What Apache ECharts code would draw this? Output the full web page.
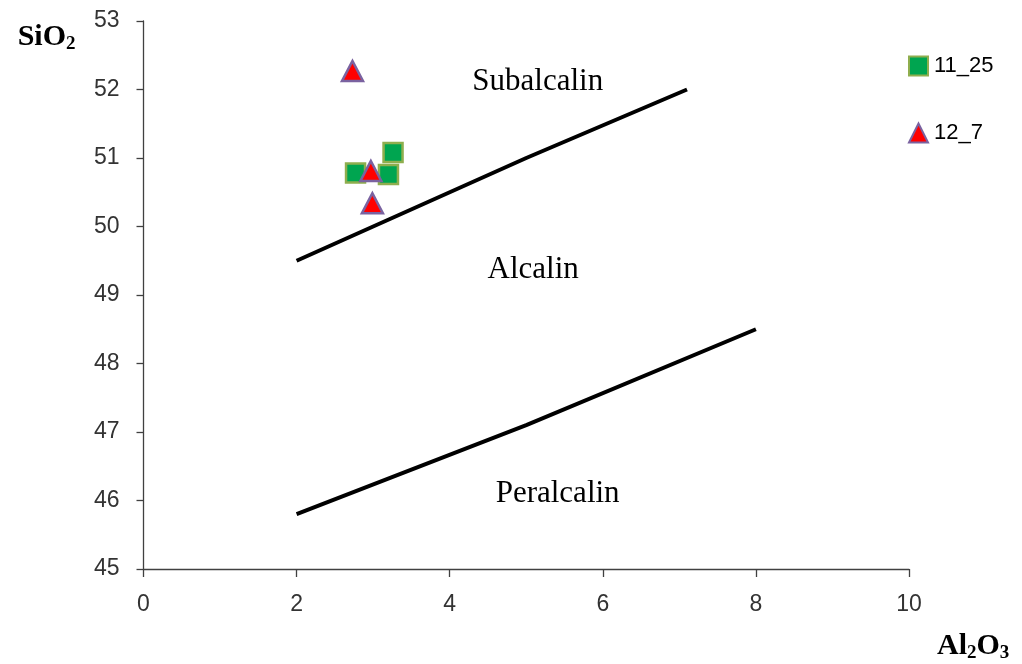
<!DOCTYPE html>
<html><head><meta charset="utf-8">
<script src="https://cdn.jsdelivr.net/npm/echarts@6/dist/echarts.min.js"></script>
<style>html,body{margin:0;padding:0;background:#fff}#c{width:1022px;height:664px}</style>
</head><body><div id="c"></div>
<script>
// data
const s1125 = [[2.77, 50.78], [3.26, 51.08], [3.20, 50.76]];
const s127 = [[2.73, 52.27], [2.97, 50.81], [2.99, 50.34]];
const upperBoundary = [[2.0, 49.5], [5.0, 51.0], [7.1, 52.0]];
const lowerBoundary = [[2.0, 45.8], [5.0, 47.1], [8.0, 48.5]];
const regionLabels = [[5.15, 52.11, 'Subalcalin'], [5.09, 49.36, 'Alcalin'], [5.41, 46.09, 'Peralcalin']];
const xTicks = [0, 2, 4, 6, 8, 10];
const yTicks = [45, 46, 47, 48, 49, 50, 51, 52, 53];

const chart = echarts.init(document.getElementById('c'));
const tickFont = {fontFamily: 'Liberation Sans', fontSize: 23, color: '#333'};
const nameRich = {
  a: {fontFamily: 'Liberation Serif', fontWeight: 'bold', fontSize: 30, color: '#000'},
  b: {fontFamily: 'Liberation Serif', fontWeight: 'bold', fontSize: 19, color: '#000', padding: [14, 0, 0, 0]}
};
chart.setOption({
  animation: false,
  backgroundColor: '#fff',
  grid: {left: 143.5, right: 113, top: 21, bottom: 95, containLabel: false},
  xAxis: {
    type: 'value', min: xTicks[0], max: xTicks[xTicks.length - 1], interval: 2,
    splitLine: {show: false},
    axisLine: {show: true, onZero: false, lineStyle: {color: '#404040', width: 1.3}},
    axisTick: {show: true, length: 8, lineStyle: {color: '#404040', width: 1.3}},
    axisLabel: Object.assign({margin: 24}, tickFont),
    name: '{a|Al}{b|2}{a|O}{b|3}', nameLocation: 'end', nameGap: 28,
    nameTextStyle: {verticalAlign: 'top', align: 'left', padding: [61, 0, 0, 0], rich: nameRich}
  },
  yAxis: {
    type: 'value', min: yTicks[0], max: yTicks[yTicks.length - 1], interval: 1,
    splitLine: {show: false},
    axisLine: {show: true, onZero: false, lineStyle: {color: '#404040', width: 1.3}},
    axisTick: {show: true, length: 7, lineStyle: {color: '#404040', width: 1.3}},
    axisLabel: Object.assign({margin: 24}, tickFont),
    name: '{a|SiO}{b|2}', nameLocation: 'end', nameGap: -16,
    nameTextStyle: {align: 'right', verticalAlign: 'middle', padding: [0, 68, 0, 0], rich: nameRich}
  },
  legend: {
    data: ['11_25', '12_7'], orient: 'vertical', left: 903, top: 50,
    itemWidth: 19, itemHeight: 19, itemGap: 45,
    textStyle: {fontFamily: 'Liberation Sans', fontSize: 22, color: '#000', padding: [0, 0, 0, 1]}
  },
  series: [
    {type: 'line', name: 'upper', data: upperBoundary, symbol: 'none', silent: true,
     lineStyle: {color: '#000', width: 4}, z: 1},
    {type: 'line', name: 'lower', data: lowerBoundary, symbol: 'none', silent: true,
     lineStyle: {color: '#000', width: 4}, z: 1},
    {type: 'scatter', name: 'regions', data: regionLabels, symbolSize: 0, silent: true,
     itemStyle: {opacity: 1},
     label: {show: true, position: 'inside', formatter: p => p.data[2],
       fontFamily: 'Liberation Serif', fontSize: 31, color: '#000', opacity: 1}},
    {type: 'scatter', name: '11_25', data: s1125, symbol: 'rect', symbolSize: 19, z: 3,
     itemStyle: {color: '#00A550', borderColor: '#8FAE4E', borderWidth: 2.5, opacity: 1}},
    {type: 'scatter', name: '12_7', data: s127, symbol: 'triangle', symbolSize: [21, 20], z: 4,
     itemStyle: {color: '#FF0000', borderColor: '#7A62A0', borderWidth: 2.5, opacity: 1}}
  ]
});
</script></body></html>
